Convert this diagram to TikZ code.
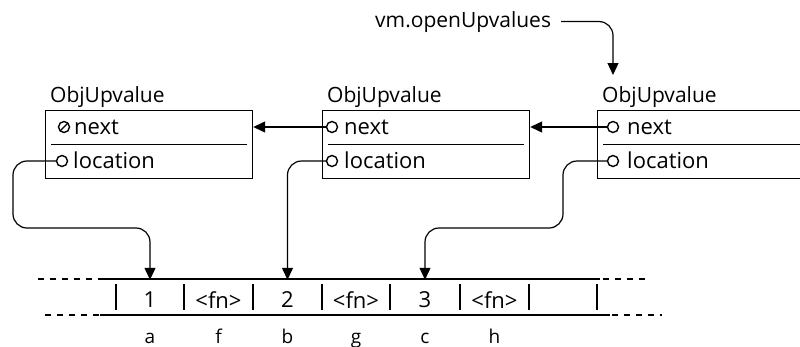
\documentclass[tikz,border=0pt]{standalone}
\usepackage{fontspec}
\setmainfont{Open Sans}
\usetikzlibrary{arrows.meta,calc}
\begin{document}
\begin{tikzpicture}[x=1pt,y=-1pt,
  box/.style={draw, line width=1.2pt, minimum width=207pt, minimum height=68pt, anchor=north west, inner sep=0pt},
  ptr/.style={circle, draw, line width=1.4pt, minimum size=11pt, inner sep=0pt},
  nullptr/.style={ptr, path picture={\draw[line width=1.2pt] (path picture bounding box.south west) -- (path picture bounding box.north east);}},
  fld/.style={anchor=base west, font=\fontsize{22}{24}\selectfont, inner sep=0pt},
  ttl/.style={anchor=base west, font=\fontsize{21}{23}\selectfont, inner sep=0pt},
  arr/.style={line width=1.2pt, -{Triangle[length=12pt,width=11pt]}, rounded corners=14pt},
  cell/.style={minimum width=68pt, minimum height=40pt, inner sep=0pt, font=\fontsize{22}{24}\selectfont},
  lbl/.style={anchor=base, font=\fontsize{19}{21}\selectfont, inner sep=0pt},
  bar/.style={line width=1.2pt},
  edge/.style={line width=1.4pt},
  dsh/.style={line width=1.1pt, dash pattern=on 6pt off 6pt}
]
\useasboundingbox (0,0) rectangle (800,346);
\clip (0,0) rectangle (800,346);

% vm.openUpvalues
\node[ttl] (vm) at (375,27) {vm.openUpvalues};
\coordinate (vmtip) at (613,75);

% boxes
\node[box] (b1) at (45,110) {};
\node[box] (b2) at (322,110) {};
\node[box, minimum width=220pt] (b3) at (597,110) {};
\foreach \b in {b1,b2,b3} \draw[line width=1pt] ([xshift=6pt]\b.west) -- ([xshift=-6pt]\b.east);

\node[ttl] (t1) at (50,102) {ObjUpvalue};
\node[ttl] (t2) at (327,102) {ObjUpvalue};
\node[ttl] (t3) at (602,102) {ObjUpvalue};

% fields
\node[nullptr] (n1) at (64,127) {};
\node[fld] (nt1) at (74,134) {next};
\node[ptr] (l1) at (62,161) {};
\node[fld] (lt1) at (73,168) {location};

\node[ptr] (n2) at (332,127) {};
\node[fld] (nt2) at (344,134) {next};
\node[ptr] (l2) at (332,161) {};
\node[fld] (lt2) at (344,168) {location};

\node[ptr] (n3) at (613,127) {};
\node[fld] (nt3) at (627,134) {next};
\node[ptr] (l3) at (613,161) {};
\node[fld] (lt3) at (627,168) {location};

% array
\draw[edge] (100,279) -- (600,279);
\draw[edge] (100,315) -- (610,315);
\draw[dsh] (38,279) -- (100,279);
\draw[dsh] (45,315) -- (100,315);
\draw[dsh] (603,279) -- (645,279);
\draw[dsh] (612,315) -- (662,315);
\foreach \x in {116,184,253,322,390,460,529,597} \draw[bar] (\x,284) -- (\x,310);

\node[cell] (c1) at (150,300) {1};
\node[cell] (c2) at (218.5,300) {<fn>};
\node[cell] (c3) at (287.5,300) {2};
\node[cell] (c4) at (356,300) {<fn>};
\node[cell] (c5) at (425,300) {3};
\node[cell] (c6) at (494.5,300) {<fn>};
\node[cell] (c7) at (563,300) {};

\node[lbl] (la) at (150,343) {a};
\node[lbl] (lf) at (218.5,343) {f};
\node[lbl] (lb) at (287.5,343) {b};
\node[lbl] (lg) at (356,343) {g};
\node[lbl] (lc) at (425,343) {c};
\node[lbl] (lh) at (494.5,343) {h};

% connectors
\draw[arr] ([xshift=10pt]vm.east) -| (vmtip);
\draw[arr, rounded corners=0pt] (n2.west) -- (n2.west -| b1.east);
\draw[arr, rounded corners=0pt] (n3.west) -- (n3.west -| b2.east);
\draw[arr] (l1.west) -- (13,161) -- (13,228) -- (150,228) -- (c1.north);
\draw[arr] (l2.west) -- (287.5,161) -- (c3.north);
\draw[arr] (l3.west) -- (563,161) -- (563,228) -- (425,228) -- (c5.north);
\end{tikzpicture}
\end{document}
